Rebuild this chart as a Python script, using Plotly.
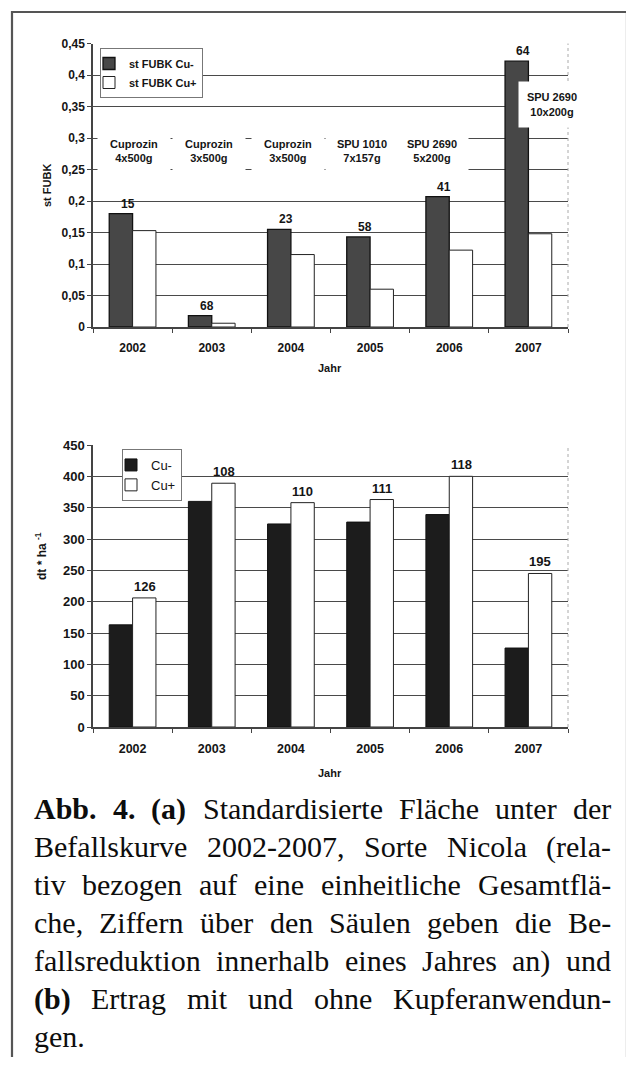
import plotly.graph_objects as go

# ---------------- data ----------------
years = ["2002", "2003", "2004", "2005", "2006", "2007"]

fubk_cu_minus = [0.180, 0.018, 0.155, 0.143, 0.207, 0.422]
fubk_cu_plus = [0.153, 0.006, 0.115, 0.060, 0.122, 0.148]
fubk_reduction_labels = ["15", "68", "23", "58", "41", "64"]
treatment_labels = ["Cuprozin<br>4x500g", "Cuprozin<br>3x500g", "Cuprozin<br>3x500g",
                    "SPU 1010<br>7x157g", "SPU 2690<br>5x200g", "SPU 2690<br>10x200g"]

yield_cu_minus = [163, 360, 324, 327, 339, 126]
yield_cu_plus = [206, 389, 358, 363, 400, 245]
yield_change_labels = ["126", "108", "110", "111", "118", "195"]

fubk_tickvals = [0, 0.05, 0.1, 0.15, 0.2, 0.25, 0.3, 0.35, 0.4, 0.45]
fubk_ticktext = ["0", "0,05", "0,1", "0,15", "0,2", "0,25", "0,3", "0,35", "0,4", "0,45"]
yield_tickvals = [0, 50, 100, 150, 200, 250, 300, 350, 400, 450]

caption_lines = [
    ["Abb.", "4.", "(a)", "Standardisierte", "Fläche", "unter", "der"],
    ["Befallskurve", "2002-2007,", "Sorte", "Nicola", "(rela-"],
    ["tiv", "bezogen", "auf", "eine", "einheitliche", "Gesamtflä-"],
    ["che,", "Ziffern", "über", "den", "Säulen", "geben", "die", "Be-"],
    ["fallsreduktion", "innerhalb", "eines", "Jahres", "an)", "und"],
    ["(b)", "Ertrag", "mit", "und", "ohne", "Kupferanwendun-"],
    ["gen."],
]
caption_bold_words = ["Abb.", "4.", "(a)", "(b)"]

# ---------------- layout helpers ----------------
W, H = 618, 1049          # figure size (page body keeps 8px margin)
OX, OY = 8, 8


def px(x):
    return (x - OX) / W


def py(y):
    return 1 - (y - OY) / H


SANS = "Liberation Sans, Arial, sans-serif"
SERIF = "Liberation Serif, Times New Roman, serif"
INK = "#151515"

X0, X1 = 93, 568
TOP_Y0, TOP_Y1 = 327, 43.5
BOT_Y0, BOT_Y1 = 727, 445

fig = go.Figure()

fig.add_trace(go.Bar(x=years, y=fubk_cu_minus, name="st FUBK Cu-",
                     marker=dict(color="#474747", line=dict(color="#111111", width=1.3)),
                     xaxis="x", yaxis="y", legend="legend"))
fig.add_trace(go.Bar(x=years, y=fubk_cu_plus, name="st FUBK Cu+",
                     marker=dict(color="white", line=dict(color="#222222", width=1)),
                     xaxis="x", yaxis="y", legend="legend"))
fig.add_trace(go.Bar(x=years, y=yield_cu_minus, name="Cu-",
                     marker=dict(color="#1c1c1c", line=dict(color="#111111", width=1)),
                     xaxis="x2", yaxis="y2", legend="legend2"))
fig.add_trace(go.Bar(x=years, y=yield_cu_plus, name="Cu+",
                     marker=dict(color="white", line=dict(color="#222222", width=1)),
                     xaxis="x2", yaxis="y2", legend="legend2"))

tick_font = dict(family=SANS, size=12, color=INK, weight="bold")
common = dict(showline=True, linecolor="#444444", linewidth=1.5, ticks="outside", ticklen=4,
              tickcolor="#444444", tickfont=tick_font, automargin=False, zeroline=False,
              fixedrange=True)
grid = dict(showgrid=True, gridcolor="#4a4a4a", gridwidth=1.3)

fig.update_layout(
    width=W, height=H,
    margin=dict(l=0, r=0, t=0, b=0),
    paper_bgcolor="white", plot_bgcolor="white",
    barmode="group", bargap=0.41, bargroupgap=0,
    font=dict(family=SANS, color=INK),
    xaxis=dict(domain=[px(X0), px(X1)], anchor="y", type="category", tickson="boundaries",
               showgrid=False, ticklabelstandoff=9, range=[-0.5, 5.5], **common),
    yaxis=dict(domain=[py(TOP_Y0), py(TOP_Y1)], anchor="x", range=[0, 0.45],
               tickvals=fubk_tickvals, ticktext=fubk_ticktext, **grid, **common),
    xaxis2=dict(domain=[px(X0), px(X1)], anchor="y2", type="category", tickson="boundaries",
                showgrid=False, ticklabelstandoff=9, range=[-0.5, 5.5], **common),
    yaxis2=dict(domain=[py(BOT_Y0), py(BOT_Y1)], anchor="x2", range=[0, 450],
                tickvals=yield_tickvals, **grid, **common),
    legend=dict(x=px(100), y=py(48), xanchor="left", yanchor="top", bgcolor="white",
                bordercolor="#777777", borderwidth=1, itemwidth=30, tracegroupgap=0,
                traceorder="normal", indentation=-12,
                font=dict(family=SANS, size=11, color=INK, weight="bold")),
    legend2=dict(x=px(122), y=py(449), xanchor="left", yanchor="top", bgcolor="white",
                 bordercolor="#777777", borderwidth=1, itemwidth=30, tracegroupgap=0,
                 traceorder="normal", indentation=-12,
                 font=dict(family=SANS, size=13, color=INK)),
    showlegend=True,
)
fig.update_layout(yaxis2_tickfont=dict(family=SANS, size=13, color=INK, weight="bold"),
                  xaxis2_tickfont=dict(family=SANS, size=12.5, color=INK, weight="bold"))

annotations = []

# value labels above bars (top: over Cu- bars, bottom: over Cu+ bars); x = category index
for i, (v, lab) in enumerate(zip(fubk_cu_minus, fubk_reduction_labels)):
    annotations.append(dict(x=i, y=v, xref="x", yref="y", text=lab, showarrow=False,
                            xanchor="center", yanchor="bottom", xshift=-5, yshift=1,
                            font=dict(family=SANS, size=12, color=INK, weight="bold")))
for i, (v, lab) in enumerate(zip(yield_cu_plus, yield_change_labels)):
    annotations.append(dict(x=i, y=v, xref="x2", yref="y2", text=lab, showarrow=False,
                            xanchor="center", yanchor="bottom", xshift=12, yshift=2,
                            font=dict(family=SANS, size=13, color=INK, weight="bold")))

# treatment boxes (white boxes hiding the grid)
treat_shift = [1, -3, -3, -8, -17, 24]
for i, lab in enumerate(treatment_labels):
    last = i == len(treatment_labels) - 1
    annotations.append(dict(x=i, y=0.353 if last else 0.28, xref="x", yref="y", text=lab,
                            showarrow=False, xanchor="center", yanchor="middle",
                            xshift=treat_shift[i], bgcolor="white", borderpad=0,
                            width=66 if last else 72, height=45 if last else 42,
                            font=dict(family=SANS, size=11, color=INK, weight="bold")))

# axis titles
annotations += [
    dict(x=px(47), y=py(186), xref="paper", yref="paper", text="st FUBK", textangle=-90,
         xanchor="center", yanchor="middle", showarrow=False,
         font=dict(family=SANS, size=11, color=INK, weight="bold")),
    dict(x=px(41), y=py(556), xref="paper", yref="paper", text="dt * ha <sup>-1</sup>",
         textangle=-90, xanchor="center", yanchor="middle", showarrow=False,
         font=dict(family=SANS, size=12, color=INK, weight="bold")),
    dict(x=px(330), y=py(368), xref="paper", yref="paper", text="Jahr", showarrow=False,
         xanchor="center", yanchor="middle",
         font=dict(family=SANS, size=11, color=INK, weight="bold")),
    dict(x=px(330), y=py(773), xref="paper", yref="paper", text="Jahr", showarrow=False,
         xanchor="center", yanchor="middle",
         font=dict(family=SANS, size=11, color=INK, weight="bold")),
]

# caption, justified word by word using Times metrics
REG = {" ": 250, ",": 250, "-": 333, ".": 250, "(": 333, ")": 333, "0": 500, "2": 500,
       "4": 500, "7": 500, "A": 722, "B": 667, "E": 611, "F": 556, "G": 722, "J": 389,
       "K": 722, "N": 722, "S": 556, "Z": 611, "a": 444, "b": 500, "c": 444, "d": 500,
       "e": 444, "f": 333, "g": 500, "h": 500, "i": 278, "k": 500, "l": 278, "m": 778,
       "n": 500, "o": 500, "p": 500, "r": 333, "s": 389, "t": 278, "u": 500, "v": 500,
       "w": 722, "z": 444, "ä": 444, "ü": 500}
BOLD = {"A": 722, "b": 556, ".": 250, "4": 500, "(": 333, "a": 500, ")": 333}

FS = 30
CAP_L, CAP_R = 33, 610
BASE0, LEAD = 819, 38


def wwidth(word, bold):
    table = BOLD if bold else REG
    return sum(table.get(c, REG.get(c, 500)) for c in word) * FS / 1000


for li, words in enumerate(caption_lines):
    widths = [wwidth(w, w in caption_bold_words) for w in words]
    if li < len(caption_lines) - 1 and len(words) > 1:
        gap = (CAP_R - CAP_L - sum(widths)) / (len(words) - 1)
    else:
        gap = 0.25 * FS
    xpos = CAP_L
    base = BASE0 + LEAD * li
    for w, wd in zip(words, widths):
        annotations.append(dict(x=px(xpos - 1), y=py(base - 0.3375 * FS), xref="paper",
                                yref="paper", text=w, showarrow=False, xanchor="left",
                                yanchor="middle",
                                font=dict(family=SERIF, size=FS, color="#0d0d0d",
                                          weight="bold" if w in caption_bold_words else "normal")))
        xpos += wd + gap

fig.update_layout(annotations=annotations)

# frame and plot-area borders
shapes = [
    dict(type="rect", xref="paper", yref="paper", x0=px(12), x1=px(627), y0=-0.02, y1=py(12),
         line=dict(color="#555555", width=2.2), fillcolor="rgba(0,0,0,0)", layer="above"),
    dict(type="line", xref="paper", yref="paper", x0=px(X1), x1=px(X1), y0=py(TOP_Y0),
         y1=py(TOP_Y1), line=dict(color="#aaaaaa", width=1, dash="dot")),
    dict(type="line", xref="paper", yref="paper", x0=px(X1), x1=px(X1), y0=py(BOT_Y0),
         y1=py(BOT_Y1), line=dict(color="#aaaaaa", width=1, dash="dot")),
]
fig.update_layout(shapes=shapes)

fig.write_html("out.html")
